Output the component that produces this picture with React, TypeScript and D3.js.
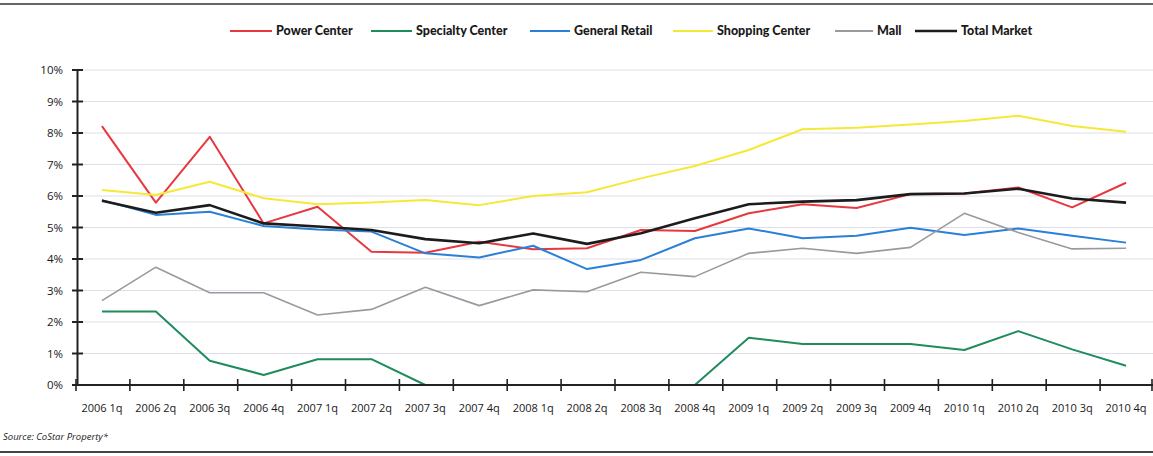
import React from "react";
import * as d3 from "d3";

const categories = [
  "2006 1q", "2006 2q", "2006 3q", "2006 4q",
  "2007 1q", "2007 2q", "2007 3q", "2007 4q",
  "2008 1q", "2008 2q", "2008 3q", "2008 4q",
  "2009 1q", "2009 2q", "2009 3q", "2009 4q",
  "2010 1q", "2010 2q", "2010 3q", "2010 4q",
];

const powerCenter = [8.22, 5.79, 7.88, 5.13, 5.66, 4.23, 4.2, 4.55, 4.31, 4.34, 4.92, 4.89, 5.45, 5.74, 5.62, 6.06, 6.08, 6.27, 5.64, 6.42];
const specialtyCenter = [2.33, 2.33, 0.77, 0.32, 0.82, 0.82, 0, 0, 0, 0, 0, 0, 1.5, 1.3, 1.3, 1.3, 1.11, 1.71, 1.13, 0.61];
const generalRetail = [5.87, 5.4, 5.5, 5.05, 4.94, 4.87, 4.18, 4.05, 4.42, 3.68, 3.97, 4.66, 4.97, 4.66, 4.74, 4.99, 4.76, 4.97, 4.74, 4.52];
const shoppingCenter = [6.19, 6.03, 6.45, 5.93, 5.74, 5.79, 5.87, 5.71, 6.0, 6.12, 6.56, 6.95, 7.46, 8.12, 8.17, 8.27, 8.38, 8.55, 8.22, 8.04];
const mall = [2.68, 3.74, 2.93, 2.93, 2.22, 2.4, 3.1, 2.52, 3.02, 2.96, 3.58, 3.44, 4.18, 4.34, 4.18, 4.37, 5.45, 4.84, 4.32, 4.34];
const totalMarket = [5.85, 5.47, 5.71, 5.13, 5.03, 4.92, 4.63, 4.5, 4.81, 4.48, 4.82, 5.29, 5.74, 5.82, 5.87, 6.06, 6.08, 6.23, 5.92, 5.79];

const yTicks = [0, 1, 2, 3, 4, 5, 6, 7, 8, 9, 10];

const seriesNames = ["Power Center", "Specialty Center", "General Retail", "Shopping Center", "Mall", "Total Market"];
const seriesValues = [powerCenter, specialtyCenter, generalRetail, shoppingCenter, mall, totalMarket];
const seriesColors = ["#e8383f", "#1f8c5c", "#2a80d6", "#f6e836", "#9a9a9e", "#1c1c1c"];
const seriesWidths = [2, 2, 2, 2, 1.6, 2.6];

const sourceText = "Source: CoStar Property*";

export default function App() {
  const W = 1153;
  const H = 456;
  const x = d3.scaleBand<string>().domain(categories).range([75, 1153]);
  const y = d3.scaleLinear().domain([0, 10]).range([385, 70]);
  const cx = (c: string) => (x(c) as number) + x.bandwidth() / 2;
  const line = d3
    .line<number>()
    .x((_, i) => cx(categories[i]))
    .y((v) => y(v));

  const legendStarts = [230, 371, 530, 673, 835, 915];
  const legendLineLen = [42, 41, 40, 40, 38, 42];

  const axisFont = "'Open Sans', 'Noto Sans', sans-serif";

  return (
    <svg
      width={W}
      height={H}
      style={{ position: "absolute", left: 0, top: 0, background: "#fff" }}
    >
      <rect x={0} y={0} width={W} height={H} fill="#fff" />
      <line x1={0} x2={W} y1={4} y2={4} stroke="#333" strokeWidth={1.5} />
      <line x1={0} x2={W} y1={452} y2={452} stroke="#444" strokeWidth={2} />

      {yTicks.map((t) => (
        <line
          key={"g" + t}
          x1={77}
          x2={W}
          y1={y(t)}
          y2={y(t)}
          stroke="#dedde8"
          strokeWidth={1}
        />
      ))}

      <line x1={77.5} x2={77.5} y1={y(10)} y2={y(0)} stroke="#222" strokeWidth={2} />
      {yTicks.map((t) => (
        <g key={"yt" + t}>
          <line x1={72} x2={83} y1={y(t)} y2={y(t)} stroke="#222" strokeWidth={2} />
          <text
            x={63}
            y={y(t)}
            dy="0.35em"
            textAnchor="end"
            fontFamily={axisFont}
            fontSize={11.5}
            fill="#1a1a1a"
          >
            {t + "%"}
          </text>
        </g>
      ))}

      {seriesValues.map((vals, si) => (
        <path
          key={"s" + si}
          d={line(vals) || ""}
          fill="none"
          stroke={seriesColors[si]}
          strokeWidth={seriesWidths[si]}
          strokeLinejoin="round"
        />
      ))}

      <line x1={77} x2={W} y1={y(0)} y2={y(0)} stroke="#222" strokeWidth={2} />
      {categories.map((c, i) => (
        <line
          key={"xt" + i}
          x1={(x(c) as number) + 1}
          x2={(x(c) as number) + 1}
          y1={y(0) - 6}
          y2={y(0) + 6}
          stroke="#222"
          strokeWidth={1.6}
        />
      ))}
      <line x1={W - 1} x2={W - 1} y1={y(0) - 6} y2={y(0) + 6} stroke="#222" strokeWidth={1.6} />
      {categories.map((c) => (
        <text
          key={"xl" + c}
          x={cx(c)}
          y={412}
          textAnchor="middle"
          fontFamily={axisFont}
          fontSize={11}
          fill="#1a1a1a"
        >
          {c}
        </text>
      ))}

      {seriesNames.map((n, i) => (
        <g key={"lg" + i}>
          <line
            x1={legendStarts[i]}
            x2={legendStarts[i] + legendLineLen[i]}
            y1={31}
            y2={31}
            stroke={seriesColors[i]}
            strokeWidth={i === 5 ? 2.4 : 2}
          />
          <text
            x={legendStarts[i] + legendLineLen[i] + 4}
            y={31}
            dy="0.35em"
            fontFamily="Lato, 'Open Sans', sans-serif"
            fontWeight={900}
            fontSize={12.5}
            fill="#1a1a1a"
          >
            {n}
          </text>
        </g>
      ))}

      <text
        x={3}
        y={440}
        fontFamily={axisFont}
        fontStyle="italic"
        fontSize={9.5}
        fill="#222"
      >
        {sourceText}
      </text>
    </svg>
  );
}
